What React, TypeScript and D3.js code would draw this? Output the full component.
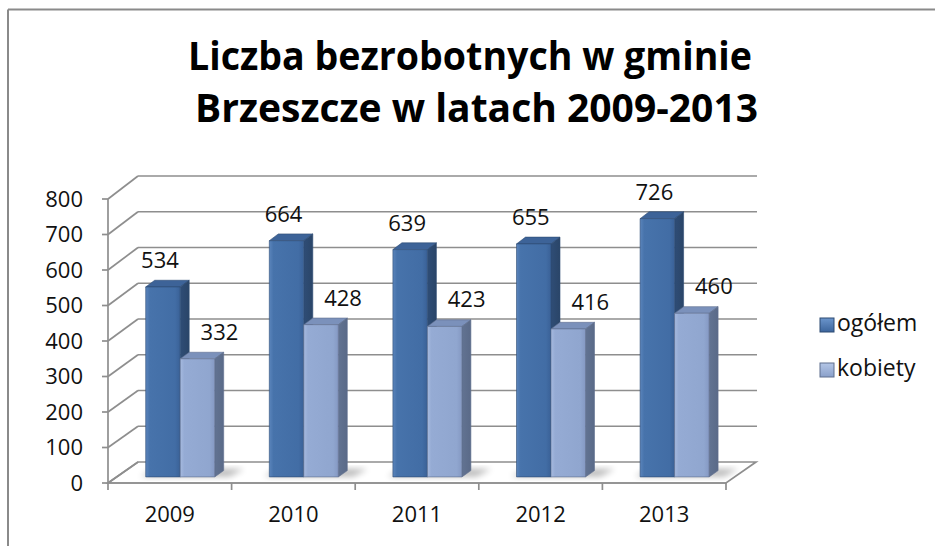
import React from "react";
import * as d3 from "d3";

const categories = ["2009", "2010", "2011", "2012", "2013"];
const seriesNames = ["ogółem", "kobiety"];
const ogolem = [534, 664, 639, 655, 726];
const kobiety = [332, 428, 423, 416, 460];
const yTicks = [0, 100, 200, 300, 400, 500, 600, 700, 800];
const titleLines = ["Liczba bezrobotnych w gminie", "Brzeszcze w latach 2009-2013"];

const W = 935;
const H = 546;
const FONT = "'Open Sans', 'Liberation Sans', sans-serif";

const xBand = d3.scaleBand<string>().domain(categories).range([108, 726]).padding(0);
const xSeries = d3.scaleBand<string>().domain(seriesNames).range([29, 98]).padding(0);
const yFront = d3.scaleLinear().domain([0, 800]).range([483, 199]);
const yBack = d3.scaleLinear().domain([0, 800]).range([462, 176]);
const DX = 30;
const D0 = 0.29;
const D1 = 0.59;

function proj(x: number, v: number, d: number): [number, number] {
  const yf = yFront(v);
  const yb = yBack(v);
  return [x + DX * d, yf + (yb - yf) * d];
}
const pts = (arr: [number, number][]) => arr.map((p) => p.join(",")).join(" ");

const palette: Record<string, { front: string; side: string; top: string; stroke: string }> = {
  "ogółem": { front: "url(#gOg)", side: "url(#gOgSide)", top: "#3d6398", stroke: "#2d4b73" },
  kobiety: { front: "url(#gKo)", side: "url(#gKoSide)", top: "#7b91bb", stroke: "#5f6f8e" },
};

export default function App() {
  const seriesData: Record<string, number[]> = { "ogółem": ogolem, kobiety: kobiety };
  const bw = xSeries.bandwidth();
  const gridColor = "#8e8e8e";

  return (
    <svg
      width={W}
      height={H}
      style={{ position: "absolute", left: 0, top: 0, background: "#fff" }}
      fontFamily={FONT}
    >
      <defs>
        <linearGradient id="gOg" x1="0" x2="1" y1="0" y2="0">
          <stop offset="0" stopColor="#5a84bb" />
          <stop offset="0.12" stopColor="#4773ab" />
          <stop offset="0.85" stopColor="#426da5" />
          <stop offset="1" stopColor="#3a6197" />
        </linearGradient>
        <linearGradient id="gOgSide" x1="0" x2="1" y1="0" y2="0">
          <stop offset="0" stopColor="#2f4d76" />
          <stop offset="1" stopColor="#2a4568" />
        </linearGradient>
        <linearGradient id="gKo" x1="0" x2="1" y1="0" y2="0">
          <stop offset="0" stopColor="#a6badf" />
          <stop offset="0.12" stopColor="#95abd4" />
          <stop offset="0.85" stopColor="#90a6cf" />
          <stop offset="1" stopColor="#8599c3" />
        </linearGradient>
        <linearGradient id="gKoSide" x1="0" x2="1" y1="0" y2="0">
          <stop offset="0" stopColor="#627392" />
          <stop offset="1" stopColor="#5a6a88" />
        </linearGradient>
        <linearGradient id="gLegOg" x1="0" x2="0" y1="0" y2="1">
          <stop offset="0" stopColor="#6b95cc" />
          <stop offset="1" stopColor="#3c659c" />
        </linearGradient>
        <linearGradient id="gLegKo" x1="0" x2="0" y1="0" y2="1">
          <stop offset="0" stopColor="#b4c6e6" />
          <stop offset="1" stopColor="#8aa0ca" />
        </linearGradient>
        <filter id="blur" x="-50%" y="-50%" width="200%" height="200%">
          <feGaussianBlur stdDeviation="3" />
        </filter>
      </defs>

      {/* outer frame (top and left edges visible) */}
      <line x1={8} y1={9.5} x2={W} y2={9.5} stroke="#8a8a8a" strokeWidth={2} />
      <line x1={8} y1={9.5} x2={8} y2={H} stroke="#8a8a8a" strokeWidth={2} />

      {/* title */}
      <g fontWeight={700} fill="#000" fontSize={39}>
        <text x={188} y={70} textLength={564} lengthAdjust="spacingAndGlyphs">
          {titleLines[0]}
        </text>
        <text x={195} y={122} textLength={563} lengthAdjust="spacingAndGlyphs">
          {titleLines[1]}
        </text>
      </g>

      {/* floor */}
      <polygon
        points={pts([proj(108, 0, 0), proj(726, 0, 0), proj(726, 0, 1), proj(108, 0, 1)])}
        fill="#fff"
        stroke={gridColor}
        strokeWidth={1.7}
      />

      {/* gridlines: left wall diagonals + back wall horizontals */}
      {yTicks.map((v) => (
        <g key={"g" + v} stroke={gridColor} strokeWidth={1.7} fill="none">
          <line x1={proj(108, v, 0)[0]} y1={proj(108, v, 0)[1]} x2={proj(108, v, 1)[0]} y2={proj(108, v, 1)[1]} />
          {v > 0 && (
            <line x1={proj(108, v, 1)[0]} y1={proj(108, v, 1)[1]} x2={proj(727, v, 1)[0]} y2={proj(727, v, 1)[1]} />
          )}
        </g>
      ))}

      {/* floor shadows */}
      {categories.map((c) => {
        const x0 = (xBand(c) as number) + (xSeries("ogółem") as number);
        const x1 = (xBand(c) as number) + (xSeries("kobiety") as number) + bw;
        return (
          <polygon
            key={"sh" + c}
            points={pts([proj(x0 - 6, 0, D0 + 0.02), proj(x1 + 14, 0, D0 + 0.02), proj(x1 + 18, 0, D1 + 0.08), proj(x0 - 2, 0, D1 + 0.08)])}
            fill="#000"
            opacity={0.28}
            filter="url(#blur)"
          />
        );
      })}

      {/* bars */}
      {categories.map((c, i) =>
        seriesNames.map((s) => {
          const v = seriesData[s][i];
          const x = (xBand(c) as number) + (xSeries(s) as number);
          const p = palette[s];
          const front = [proj(x, 0, D0), proj(x + bw, 0, D0), proj(x + bw, v, D0), proj(x, v, D0)] as [number, number][];
          const side = [proj(x + bw, 0, D0), proj(x + bw, 0, D1), proj(x + bw, v, D1), proj(x + bw, v, D0)] as [number, number][];
          const top = [proj(x, v, D0), proj(x + bw, v, D0), proj(x + bw, v, D1), proj(x, v, D1)] as [number, number][];
          return (
            <g key={c + s}>
              <polygon points={pts(top)} fill={p.top} stroke={p.stroke} strokeWidth={0.6} strokeLinejoin="round" />
              <polygon points={pts(side)} fill={p.side} stroke={p.stroke} strokeWidth={0.6} strokeLinejoin="round" />
              <polygon points={pts(front)} fill={p.front} stroke={p.stroke} strokeWidth={0.6} strokeLinejoin="round" />
            </g>
          );
        })
      )}

      {/* data labels */}
      {categories.map((c, i) =>
        seriesNames.map((s) => {
          const v = seriesData[s][i];
          const x = (xBand(c) as number) + (xSeries(s) as number);
          const [lx, ly] = proj(x + bw / 2, v, D0);
          return (
            <text
              key={"l" + c + s}
              x={lx + (s === "ogółem" ? -3 : 22)}
              y={ly - 19}
              textAnchor="middle"
              fontSize={22}
              fill="#111"
            >
              {v}
            </text>
          );
        })
      )}

      {/* value axis */}
      <line x1={108} y1={yFront(0)} x2={108} y2={yFront(800)} stroke={gridColor} strokeWidth={1.7} />
      {yTicks.map((v) => (
        <g key={"t" + v}>
          <line x1={102} y1={yFront(v)} x2={108} y2={yFront(v)} stroke={gridColor} strokeWidth={1.7} />
          <text x={83} y={yFront(v)} dy="0.36em" textAnchor="end" fontSize={22} fill="#111">
            {v}
          </text>
        </g>
      ))}

      {/* category axis */}
      <line x1={108} y1={483} x2={726} y2={483} stroke={gridColor} strokeWidth={1.7} />
      {d3.range(categories.length + 1).map((k) => {
        const x = k < categories.length ? (xBand(categories[k]) as number) : 726;
        return <line key={"ct" + k} x1={x} y1={483} x2={x} y2={490} stroke={gridColor} strokeWidth={1.7} />;
      })}
      {categories.map((c) => (
        <text
          key={"cl" + c}
          x={(xBand(c) as number) + xBand.bandwidth() / 2}
          y={522}
          textAnchor="middle"
          fontSize={22}
          fill="#111"
        >
          {c}
        </text>
      ))}

      {/* legend */}
      {seriesNames.map((s, k) => (
        <g key={"lg" + s} transform={`translate(820, ${318 + k * 45})`}>
          <rect x={0} y={0} width={14} height={14} fill={k === 0 ? "url(#gLegOg)" : "url(#gLegKo)"} stroke={palette[s].stroke} strokeWidth={1} />
          <text x={17} y={12.5} fontSize={23} fill="#111">
            {s}
          </text>
        </g>
      ))}
    </svg>
  );
}
